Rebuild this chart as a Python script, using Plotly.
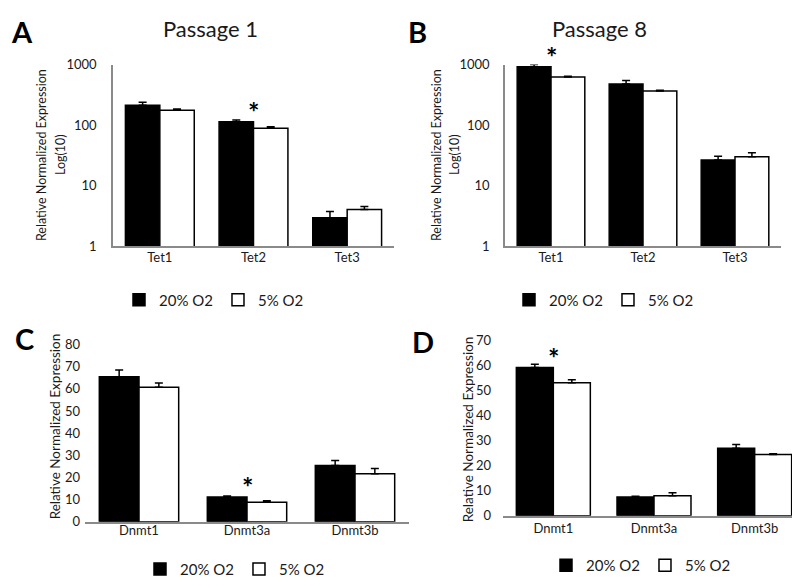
import math
import plotly.graph_objects as go

# ---------------- data ----------------
tet_genes = ["Tet1", "Tet2", "Tet3"]
dnmt_genes = ["Dnmt1", "Dnmt3a", "Dnmt3b"]
series_names = ["20% O2", "5% O2"]

# Panel A - Passage 1 (log scale)
a_o2_20 = [214, 114, 2.99]
a_o2_20_err = [25, 8, 0.78]
a_o2_5 = [176, 89.5, 4.08]
a_o2_5_err = [9, 4.5, 0.49]

# Panel B - Passage 8 (log scale)
b_o2_20 = [918, 477, 26.6]
b_o2_20_err = [87, 70, 4.3]
b_o2_5 = [626, 368, 30.2]
b_o2_5_err = [15, 10, 5.1]

# Panel C
c_o2_20 = [65.5, 11.1, 25.4]
c_o2_20_err = [3.1, 0.5, 2.2]
c_o2_5 = [60.8, 8.8, 21.7]
c_o2_5_err = [1.9, 0.7, 2.3]

# Panel D
d_o2_20 = [59.3, 7.5, 27.0]
d_o2_20_err = [1.3, 0.3, 1.5]
d_o2_5 = [53.2, 8.05, 24.5]
d_o2_5_err = [1.2, 1.15, 0.3]

log_ticks = [1, 10, 100, 1000]
c_ticks = [0, 10, 20, 30, 40, 50, 60, 70, 80]
d_ticks = [0, 10, 20, 30, 40, 50, 60, 70]

# significance marks: (panel, category)
stars = [("A", "Tet2"), ("B", "Tet1"), ("C", "Dnmt3a"), ("D", "Dnmt1")]

# ---------------- figure ----------------
W, H = 800, 580
FONT = "Lato"
TXT = "#1a1a1a"
AXC = "#8a8a8a"

def px(x):
    return x / W

def py(y):
    return 1 - y / H

panels = {
    "A": dict(sfx="", cats=tet_genes, s20=a_o2_20, e20=a_o2_20_err, s5=a_o2_5, e5=a_o2_5_err,
              leg="legend", log=True),
    "B": dict(sfx="2", cats=tet_genes, s20=b_o2_20, e20=b_o2_20_err, s5=b_o2_5, e5=b_o2_5_err,
              leg="legend2", log=True),
    "C": dict(sfx="3", cats=dnmt_genes, s20=c_o2_20, e20=c_o2_20_err, s5=c_o2_5, e5=c_o2_5_err,
              leg="legend3", log=False),
    "D": dict(sfx="4", cats=dnmt_genes, s20=d_o2_20, e20=d_o2_20_err, s5=d_o2_5, e5=d_o2_5_err,
              leg="legend4", log=False),
}

fig = go.Figure()

for key, p in panels.items():
    xa = "x" + p["sfx"]
    ya = "y" + p["sfx"]
    for name, vals, errs, fill in [(series_names[0], p["s20"], p["e20"], "black"),
                                   (series_names[1], p["s5"], p["e5"], "white")]:
        fig.add_trace(go.Bar(
            x=p["cats"], y=vals, name=name, xaxis=xa, yaxis=ya,
            marker=dict(color=fill, line=dict(color="black", width=1.5)),
            error_y=dict(type="data", array=errs, arrayminus=[0] * len(errs), symmetric=False,
                         color="black", thickness=1.5, width=4),
            legend=p["leg"], showlegend=True,
        ))

layout = dict(
    width=W, height=H,
    margin=dict(l=0, r=0, t=0, b=0),
    paper_bgcolor="white", plot_bgcolor="white",
    barmode="group", bargap=0.265, bargroupgap=0,
    font=dict(family=FONT, color=TXT, size=13),
)

# domains (pixels)
dom = {
    "A": dict(x=(105, 386), y=(237, 50)),
    "B": dict(x=(497, 773), y=(237, 50)),
    "C": dict(x=(77, 401), y=(520, 338)),
    "D": dict(x=(495, 797), y=(514, 334)),
}

xstand = {"A": -2, "B": -2, "C": -4, "D": 0}
ystand = {"A": 12, "B": 11, "C": 4, "D": 11}

for key, p in panels.items():
    s = p["sfx"]
    d = dom[key]
    layout["xaxis" + s] = dict(
        domain=[px(d["x"][0]), px(d["x"][1])], anchor="y" + s, type="category",
        showline=True, linecolor=AXC, linewidth=1.5, ticks="", showgrid=False,
        tickfont=dict(size=13, color=TXT, family=FONT), ticklabelstandoff=xstand[key],
        zeroline=False, fixedrange=True,
    )
    if p["log"]:
        yax = dict(type="log", range=[0, 3], tickvals=log_ticks,
                   ticktext=[str(t) for t in log_ticks], showline=True)
    else:
        tv = c_ticks if key == "C" else d_ticks
        yax = dict(type="linear", range=[0, tv[-1]], tickvals=tv, showline=False)
    yax.update(
        domain=[py(d["y"][0]), py(d["y"][1])], anchor="x" + s,
        linecolor=AXC, linewidth=1.5, ticks="", showgrid=False, zeroline=False,
        tickfont=dict(size=13, color=TXT, family=FONT), ticklabelstandoff=ystand[key],
        fixedrange=True,
    )
    layout["yaxis" + s] = yax

leg_common = dict(orientation="h", xanchor="center", yanchor="middle",
                  bgcolor="rgba(0,0,0,0)", font=dict(size=15, family=FONT, color=TXT),
                  itemwidth=30, traceorder="normal")
layout["legend"] = dict(leg_common, x=px(206), y=py(292))
layout["legend2"] = dict(leg_common, x=px(596), y=py(292))
layout["legend3"] = dict(leg_common, x=px(227), y=py(569))
layout["legend4"] = dict(leg_common, x=px(633), y=py(565))

fig.update_layout(**layout)

# titles and panel letters
ann = []
ann.append(dict(text="Passage 1", x=px(202), y=py(13), xref="paper", yref="paper",
                showarrow=False, font=dict(size=22, family=FONT, color=TXT),
                xanchor="center", yanchor="middle"))
ann.append(dict(text="Passage 8", x=px(591), y=py(13), xref="paper", yref="paper",
                showarrow=False, font=dict(size=22, family=FONT, color=TXT),
                xanchor="center", yanchor="middle"))
for letter, (lx, ly) in {"A": (14, 16), "B": (409, 16), "C": (16, 332), "D": (415, 335)}.items():
    ann.append(dict(text="<b>%s</b>" % letter, x=px(lx), y=py(ly), xref="paper", yref="paper",
                    showarrow=False, font=dict(size=29, family=FONT, color="black"),
                    xanchor="center", yanchor="middle"))

# y-axis titles
ytitle = "Relative Normalized Expression"
for (tx, ty, size) in [(33, 143, 12.5), (428, 143, 12.5), (47, 422, 13.5), (460, 425, 13.5)]:
    ann.append(dict(text=ytitle, x=px(tx), y=py(ty), xref="paper", yref="paper",
                    textangle=-90, showarrow=False, font=dict(size=size, family=FONT, color=TXT),
                    xanchor="center", yanchor="middle"))
for (tx, ty) in [(52, 143), (446, 143)]:
    ann.append(dict(text="Log(10)", x=px(tx), y=py(ty), xref="paper", yref="paper",
                    textangle=-90, showarrow=False, font=dict(size=12.5, family=FONT, color=TXT),
                    xanchor="center", yanchor="middle"))

# significance asterisks placed above the taller bar of the group
for key, cat in stars:
    p = panels[key]
    i = p["cats"].index(cat)
    j = 0 if p["s20"][i] + p["e20"][i] >= p["s5"][i] + p["e5"][i] else 1
    top = [p["s20"], p["s5"]][j][i]
    yv = math.log10(top) if p["log"] else top
    ann.append(dict(text="<b>*</b>", x=cat, y=yv, xref="x" + p["sfx"], yref="y" + p["sfx"],
                    showarrow=False, font=dict(size=27, family=FONT, color="black"),
                    xanchor="center", yanchor="bottom", yshift=-8))

fig.update_layout(annotations=ann)

fig.write_html("out.html")
